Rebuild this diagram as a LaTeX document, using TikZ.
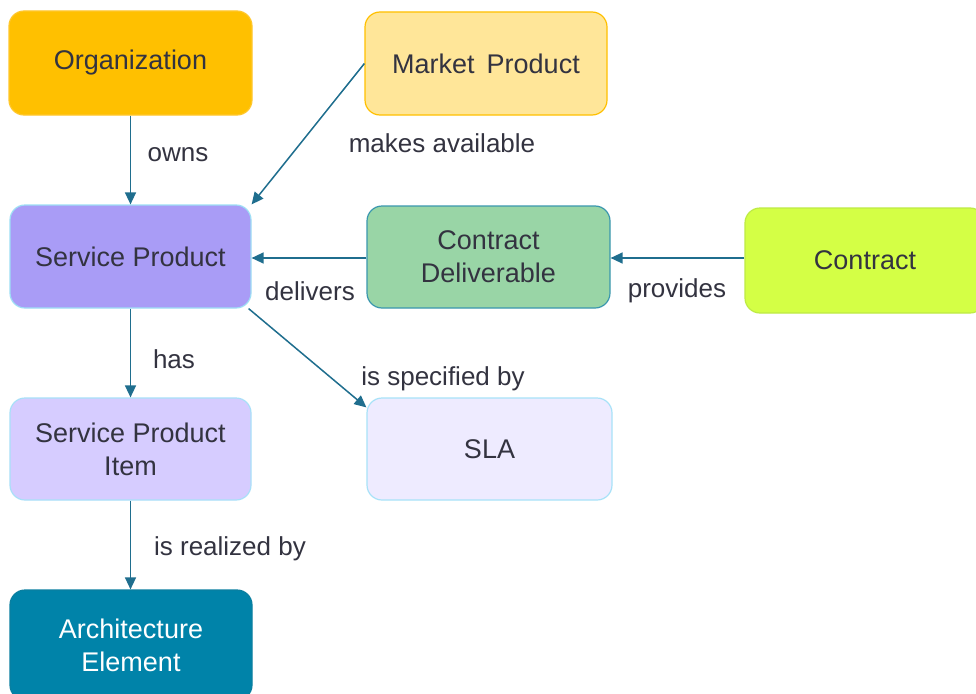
\documentclass[tikz,border=0pt]{standalone}
\usepackage{fontspec}
\setmainfont{Liberation Sans}
\usetikzlibrary{arrows.meta}
\definecolor{txt}{HTML}{333340}
\definecolor{arr}{HTML}{1F6E8E}
\definecolor{orgF}{HTML}{FFC000}\definecolor{orgD}{HTML}{FFC72C}
\definecolor{mpF}{HTML}{FFE699}\definecolor{mpD}{HTML}{FFC000}
\definecolor{spF}{HTML}{A99CF6}\definecolor{spD}{HTML}{9EDFF5}
\definecolor{cdF}{HTML}{99D5A6}\definecolor{cdD}{HTML}{3A97AE}
\definecolor{ctF}{HTML}{D4FF45}\definecolor{ctD}{HTML}{BEEB45}
\definecolor{spiF}{HTML}{D6CCFF}\definecolor{spiD}{HTML}{A8E0F8}
\definecolor{slaF}{HTML}{EEEBFF}\definecolor{slaD}{HTML}{A8E2F8}
\definecolor{aeF}{HTML}{0083A9}\definecolor{aeD}{HTML}{0A7FA0}
\tikzset{
  box/.style={draw, line width=1.2pt, rounded corners=15pt, align=center, text=txt,
    font=\fontsize{27}{33}\selectfont},
  lbl/.style={text=txt, font=\fontsize{26}{31}\selectfont, inner sep=0pt},
  conn/.style={draw=arr, line width=1.5pt, -{Triangle[length=12pt,width=11pt]}}
}
\begin{document}
\begin{tikzpicture}[x=1pt,y=-1pt]
\useasboundingbox (0,0) rectangle (976,693);
\fill[white] (0,0) rectangle (976,693);
\node[box, fill=orgF, draw=orgD, minimum width=243pt, minimum height=104pt] (org) at (130.5,63) {\raisebox{-3pt}{Organization}};
\node[box, fill=mpF, draw=mpD, minimum width=242pt, minimum height=103pt] (mp) at (486,63.5) {\raisebox{-2pt}{Market\ \,Product}};
\node[box, fill=spF, draw=spD, minimum width=241pt, minimum height=103pt] (sp) at (130.5,256.5) {\raisebox{-2pt}{Service Product}};
\node[box, fill=cdF, draw=cdD, minimum width=243pt, minimum height=102pt] (cd) at (488.5,257) {Contract\\Deliverable};
\node[box, fill=ctF, draw=ctD, minimum width=240pt, minimum height=105pt] (ct) at (865,260.5) {Contract};
\node[box, fill=spiF, draw=spiD, minimum width=241pt, minimum height=102pt] (spi) at (130.5,449) {Service Product\\Item};
\node[box, fill=slaF, draw=slaD, minimum width=245pt, minimum height=102pt] (sla) at (489.5,449) {\raisebox{-2pt}{SLA}};
\node[box, fill=aeF, draw=aeD, text=white, minimum width=242pt, minimum height=110pt] (ae) at (131,645) {Architecture\\Element};

\draw[conn] (org.south) -- (sp.north);
\draw[conn] (mp.west) -- (sp.north east);
\draw[conn] ([yshift=-1pt]cd.west) -- ([yshift=-1pt]cd.west -| sp.east);
\draw[conn] ([yshift=-1pt]cd.east -| ct.west) -- ([yshift=-1pt]cd.east);
\draw[conn] (sp.south) -- (spi.north);
\draw[conn] ([xshift=-3pt]sp.south east) -- ([yshift=-10pt]sla.north west);
\draw[conn] (spi.south) -- (spi.south |- ae.north);

\node[lbl] (l1) at (178,155) {owns};
\node[lbl] (l2) at (442,143) {makes available};
\node[lbl] (l3) at (310,291) {delivers};
\node[lbl] (l4) at (677,291) {provides};
\node[lbl] (l5) at (174,359) {has};
\node[lbl] (l6) at (443,379) {is specified by};
\node[lbl] (l7) at (230,549) {is realized by};
\end{tikzpicture}
\end{document}
